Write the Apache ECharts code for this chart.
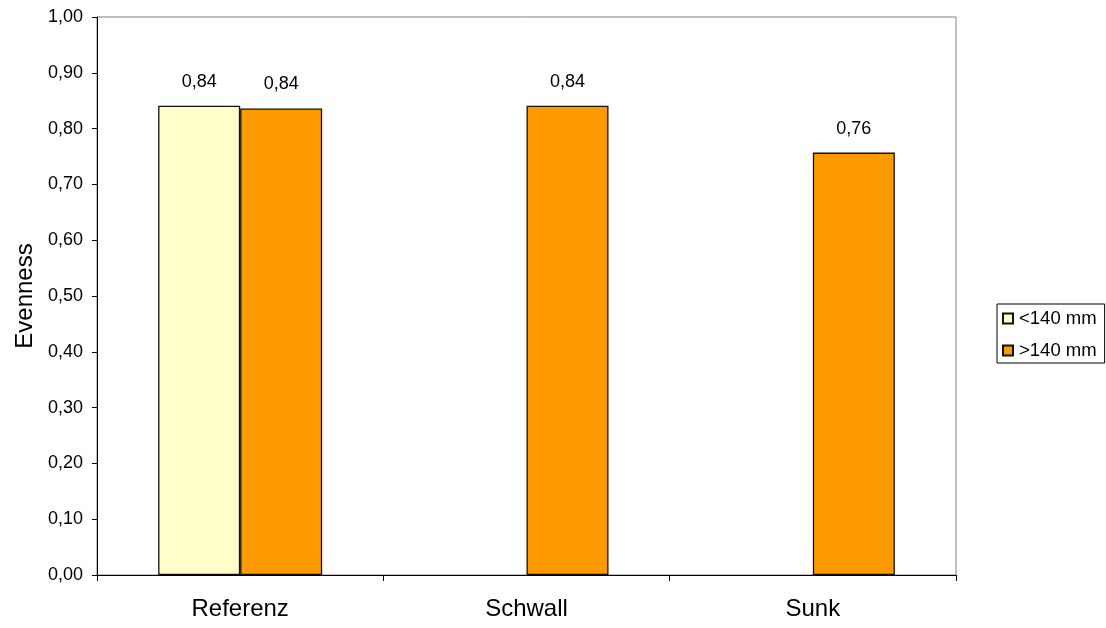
<!DOCTYPE html>
<html>
<head>
<meta charset="utf-8">
<script src="https://cdn.jsdelivr.net/npm/echarts@6/dist/echarts.min.js"></script>
<style>
  html, body { margin: 0; padding: 0; background: #fff; }
  #chart { width: 1106px; height: 628px; }
</style>
</head>
<body>
<div id="chart"></div>
<script>
// Evenness by site and fish length class
var categories = ['Referenz', 'Schwall', 'Sunk'];
var seriesNames = ['<140 mm', '>140 mm'];
var under140 = [0.841, null, null];
var over140 = [0.836, 0.841, 0.757];
var yTicks = { min: 0, max: 1, step: 0.1 };

var FONT = '"Liberation Sans", Arial, sans-serif';
function fmt(v) { return Number(v).toFixed(2).replace('.', ','); }

var chart = echarts.init(document.getElementById('chart'), null, { renderer: 'canvas' });

function barSeries(name, data, color) {
  return {
    name: name,
    type: 'bar',
    data: data,
    barWidth: 82,
    barGap: '0%',
    itemStyle: { color: color, borderColor: '#111', borderWidth: 1.3 },
    label: {
      show: true,
      position: 'top',
      distance: 15,
      color: '#000',
      fontFamily: FONT,
      fontSize: 18,
      formatter: function (p) { return fmt(p.value); }
    }
  };
}

chart.setOption({
  animation: false,
  backgroundColor: '#fff',
  grid: {
    left: 97, top: 17, right: 150, bottom: 53,
    show: true, borderColor: '#808080', borderWidth: 1, backgroundColor: 'transparent'
  },
  legend: {
    orient: 'vertical',
    left: 997, top: 304,
    data: seriesNames,
    icon: 'rect',
    itemWidth: 10, itemHeight: 10,
    itemGap: 13,
    padding: [5, 8, 3, 5],
    borderColor: '#000', borderWidth: 1,
    textStyle: { color: '#000', fontFamily: FONT, fontSize: 18.5, padding: [0, 0, 0, 1] }
  },
  xAxis: {
    type: 'category',
    data: categories,
    axisLine: { lineStyle: { color: '#000', width: 1 } },
    axisTick: { show: true, alignWithLabel: false, length: 6, lineStyle: { color: '#000' } },
    axisLabel: { color: '#000', fontFamily: FONT, fontSize: 24, margin: 22 },
    splitLine: { show: false }
  },
  yAxis: {
    type: 'value',
    min: yTicks.min, max: yTicks.max, interval: yTicks.step,
    name: 'Evenness',
    nameLocation: 'middle',
    nameRotate: 90,
    nameGap: 60,
    nameTextStyle: { color: '#000', fontFamily: FONT, fontSize: 24 },
    axisLine: { show: true, lineStyle: { color: '#000', width: 1 } },
    axisTick: { show: true, length: 5, lineStyle: { color: '#000' } },
    axisLabel: { color: '#000', fontFamily: FONT, fontSize: 18, margin: 14, formatter: fmt },
    splitLine: { show: false }
  },
  series: [
    barSeries(seriesNames[0], under140, '#FFFFCC'),
    barSeries(seriesNames[1], over140, '#FF9900')
  ]
});
</script>
</body>
</html>
